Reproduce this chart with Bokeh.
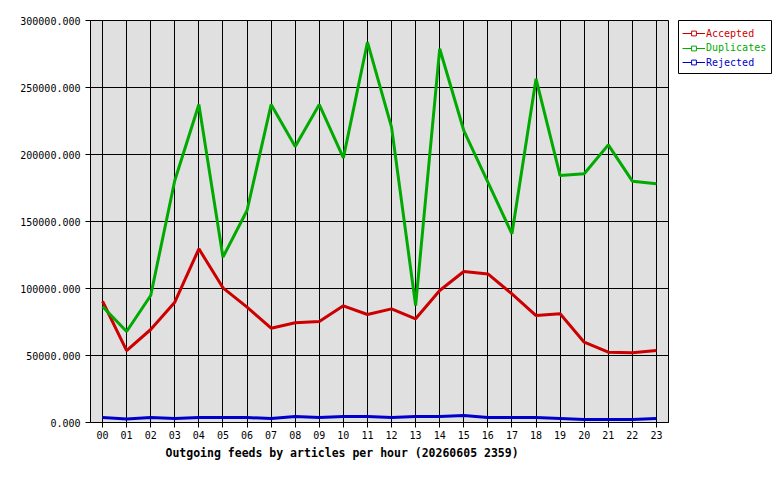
from bokeh.plotting import figure
from bokeh.layouts import row
from bokeh.models import (FixedTicker, PrintfTickFormatter, Legend, LegendItem,
                          Title)
from bokeh.embed import file_html
from bokeh.resources import INLINE

hours = ["00", "01", "02", "03", "04", "05", "06", "07", "08", "09", "10", "11",
         "12", "13", "14", "15", "16", "17", "18", "19", "20", "21", "22", "23"]
accepted = [90500, 53700, 69400, 89800, 129600, 100500, 86100, 70400, 74400, 75400,
            87100, 80600, 84800, 77400, 98500, 112700, 110900, 96000, 79800, 81100,
            59900, 52500, 52000, 53700]
duplicates = [86600, 67900, 94800, 180600, 237300, 123400, 158200, 237300, 206000,
              237300, 197500, 283800, 220400, 87300, 278900, 217900, 179300, 140800,
              256500, 184300, 185600, 207200, 180100, 178100]
rejected = [3700, 2700, 3700, 3000, 3700, 3700, 3700, 3000, 4500, 3700, 4500, 4500,
            3700, 4500, 4500, 5200, 3700, 3700, 3700, 3000, 2200, 2200, 2200, 3000]
y_ticks = [0, 50000, 100000, 150000, 200000, 250000, 300000]
title_text = "Outgoing feeds by articles per hour (20260605 2359)"

x = list(range(len(hours)))
MONO = "DejaVu Sans Mono"

p = figure(width=678, height=480, frame_width=578, frame_height=402,
           min_border_left=90, min_border_right=10, min_border_top=20,
           min_border_bottom=58, x_range=(-0.5, 23.5), y_range=(0, 300000),
           output_backend="svg", toolbar_location=None, tools="")

p.background_fill_color = "#e0e0e0"
p.border_fill_color = "white"
p.outline_line_color = "black"
p.outline_line_width = 1

p.xaxis.ticker = FixedTicker(ticks=x)
p.xaxis.major_label_overrides = {i: h for i, h in enumerate(hours)}
p.yaxis.ticker = FixedTicker(ticks=y_ticks)
p.yaxis.formatter = PrintfTickFormatter(format="%.3f")
for ax in (p.xaxis[0], p.yaxis[0]):
    ax.major_tick_out = 5
    ax.major_tick_in = 0
    ax.minor_tick_out = 0
    ax.minor_tick_in = 0
    ax.axis_line_color = "black"
    ax.major_tick_line_color = "black"
    ax.major_label_text_font = MONO
    ax.major_label_text_font_size = "10px"
    ax.major_label_text_color = "black"
p.xaxis.major_label_standoff = 3
p.yaxis.major_label_standoff = 5

p.xgrid.grid_line_color = "black"
p.ygrid.grid_line_color = "black"
p.xgrid.grid_line_alpha = 1
p.ygrid.grid_line_alpha = 1

series = [("Accepted", accepted, "#cc0000"),
          ("Duplicates", duplicates, "#00aa00"),
          ("Rejected", rejected, "#0000cc")]

for name, vals, color in series:
    p.line(x, vals, line_color=color, line_width=3)

t = Title(text=title_text, align="left", offset=75, text_font=MONO,
          text_font_size="11.5px", text_font_style="bold", text_color="black",
          standoff=4)
p.add_layout(t, "below")

# Legend panel: a small figure whose frame is the legend box
lf = figure(width=102, height=480, frame_width=93, frame_height=53,
            min_border_left=0, min_border_right=9, min_border_top=20,
            min_border_bottom=407, x_range=(-1000, -999), y_range=(-1000, -999),
            x_axis_type=None, y_axis_type=None,
            output_backend="svg", toolbar_location=None, tools="")
lf.grid.visible = False
lf.background_fill_color = "white"
lf.border_fill_color = "white"
lf.outline_line_color = "black"
lf.outline_line_width = 1

offsets = [34, 19.5, 5]
for (name, vals, color), off in zip(series, offsets):
    # same series, outside this panel's visible range: only the legend glyph shows
    r = lf.line(x, vals, line_color=color, line_width=1)
    m = lf.scatter(x, vals, marker="square", size=3, fill_color="white",
                   line_color=color, line_width=1)
    lg = Legend(items=[LegendItem(label=name, renderers=[r, m])],
                location=(4, off), padding=0, margin=0, spacing=0,
                glyph_width=23, glyph_height=12, label_height=12,
                label_standoff=1, label_text_font=MONO,
                label_text_font_size="10px", label_text_color=color,
                border_line_alpha=0, background_fill_alpha=0)
    lf.add_layout(lg)

layout = row(p, lf, spacing=0)
open("out.html", "w").write(file_html(layout, INLINE))
